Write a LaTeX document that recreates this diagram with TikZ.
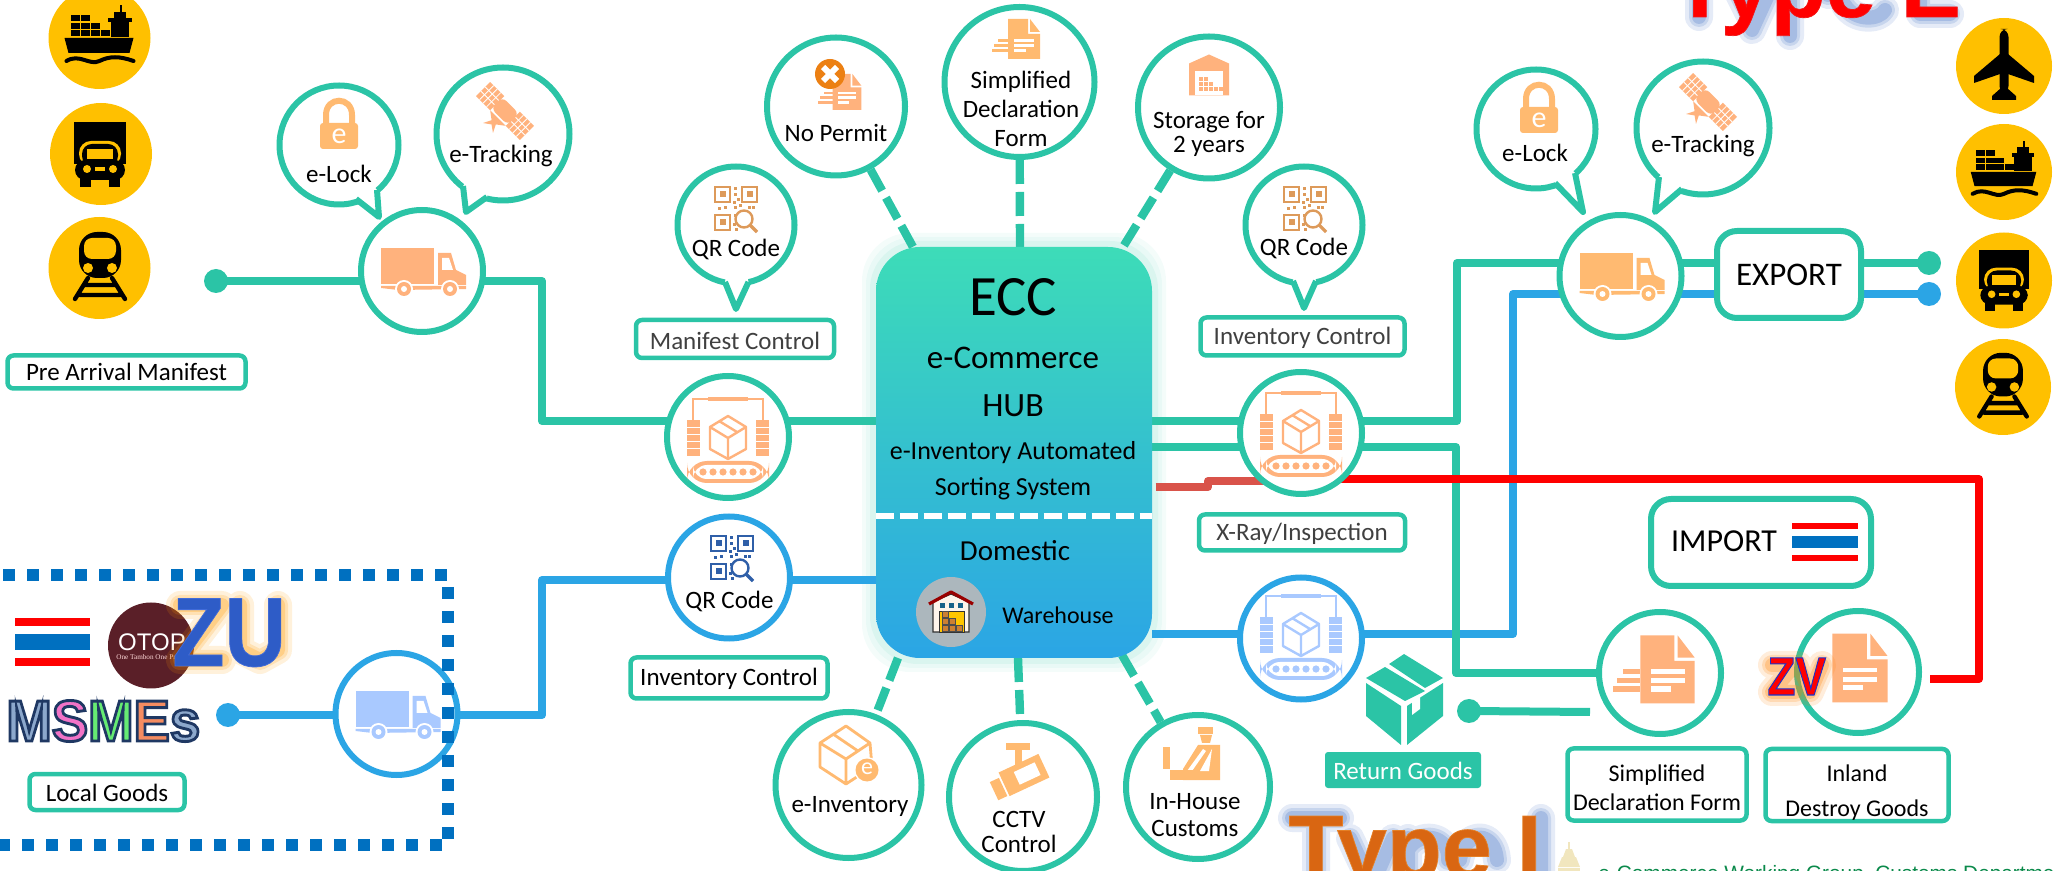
\documentclass[tikz,border=0pt]{standalone}
\usepackage{fontspec}
\setmainfont{Carlito}
\newfontfamily\heavyfont[FakeBold=2,UprightFont=* Bold]{Liberation Sans}
\newfontfamily\msfont[FakeBold=5,UprightFont=* Bold]{Liberation Sans}
\newfontfamily\typefont[FakeBold=0.8,UprightFont=* Bold]{Liberation Sans}
\newfontfamily\plainsans{Liberation Sans}
\newfontfamily\oserif{Liberation Serif}
\usetikzlibrary{calc}
\pgfdeclarelayer{bg}
\pgfsetlayers{bg,main}
\definecolor{gr}{HTML}{2BC4A6}
\definecolor{bl}{HTML}{2BA5E5}
\definecolor{yl}{HTML}{FFC000}
\definecolor{og}{HTML}{FFB27D}
\definecolor{lb}{HTML}{A9C9FF}
\definecolor{qo}{HTML}{DD9A5A}
\definecolor{qb}{HTML}{2F5FA8}
\definecolor{dk}{HTML}{404040}
\definecolor{dr}{HTML}{D9534A}
\definecolor{dashblue}{HTML}{0070C0}
\definecolor{hubtop}{HTML}{3DDCB8}
\definecolor{glowblue}{HTML}{4472C4}
\definecolor{otopc}{HTML}{5A1F28}
\definecolor{footc}{HTML}{0B8A4B}
\definecolor{templec}{HTML}{F1E6BE}
\newcommand\olt[3]{\special{pdf:bcolor [#1] [#2]}#3\special{pdf:ecolor}}
\tikzset{
  x=0.5pt,y=-0.5pt,
  ring/.style={circle,draw=gr,fill=white,line width=3pt,inner sep=0pt},
  bring/.style={ring,draw=bl},
  ydisc/.style={circle,fill=yl,inner sep=0pt},
  dotg/.style={circle,fill=gr,inner sep=0pt,minimum size=12pt},
  dotb/.style={circle,fill=bl,inner sep=0pt,minimum size=12pt},
  lbl/.style={inner sep=0pt,align=center,font=\fontsize{12.5}{15}\selectfont},
  lbox/.style={rectangle,draw=gr,fill=white,line width=2.25pt,rounded corners=3pt,inner sep=0pt,align=center,font=\fontsize{12.5}{15}\selectfont},
  bigbox/.style={rectangle,draw=gr,fill=white,line width=3pt,rounded corners=10pt,inner sep=0pt},
  gline/.style={draw=gr,line width=4pt,line join=round},
  bline/.style={draw=bl,line width=4pt,line join=round},
  rline/.style={draw=red,line width=4pt,line join=round},
  dline/.style={draw=gr,line width=4.2pt,dash pattern=on 12pt off 4pt},
  hubtxt/.style={inner sep=0pt,align=center},
}
\newcommand\truckicon[3]{\begin{scope}[shift={(#1,#2)},fill=#3]
 \fill (-41,-23) rectangle (12,13);
 \fill (16,-18)--(29,-18)--(34,-1)--(44,4)--(44,14)--(16,14)--cycle;
 \fill[white] (20,-13)--(27,-13)--(31,-1)--(20,-1)--cycle;
 \fill (-41,15)--(44,15)--(44,18)--(-24,19)--(-41,17)--cycle;
 \foreach \q in {-18,28}{\fill[white] (\q,18) circle[radius=9];\fill (\q,18) circle[radius=7];\fill[white] (\q,18) circle[radius=3];}
\end{scope}}
\newcommand\sortericon[3]{\begin{scope}[shift={(#1,#2)},fill=#3,draw=#3]
 \draw[line width=1.2pt] (-35,-20)--(-35,-42)--(35,-42)--(35,-20);
 \fill (-20,-44) rectangle (20,-40);
 \foreach \s in {-41,28}{\fill (\s,-21) rectangle ++(13,36);
   \foreach \t in {-14,-7,0,7}{\draw[white,line width=.4pt] (\s,\t)--++(13,0);}}
 \draw[line width=1.2pt,line join=round] (0,-25)--(18,-14)--(18,8)--(0,18)--(-18,8)--(-18,-14)--cycle (-18,-14)--(0,-3)--(18,-14) (0,-3)--(0,18) (-9,-20)--(9,-9);
 \fill[rounded corners=10pt] (-41,20) rectangle (41,42);
 \fill[white,rounded corners=7pt] (-35,24) rectangle (35,38);
 \foreach \t in {-25,-15,-5,5,15,25}{\fill (\t,31) circle[radius=3.6];}
\end{scope}}
\newcommand\lockicon[3]{\begin{scope}[shift={(#2,#3)}]
 \draw[line width=3pt,draw=og!90!yellow] (-13,-22)--(-13,-30).. controls (-13,-49) and (13,-49) .. (13,-30)--(13,-22);
 \fill[og!90!yellow,rounded corners=1.5pt] (-19,-22) rectangle (19,4);
 \node[inner sep=0pt,text=white,font=\fontsize{15}{15}\selectfont] (#1) at (0,-9) {e};
\end{scope}}
\newcommand\saticon[2]{\begin{scope}[shift={(#1,#2)},rotate=-45]
 \foreach \s in {-31,11}{\fill[og] (\s,-10) rectangle ++(20,20);
  \foreach \t in {5,10,15}{\draw[white,line width=.4pt] (\s+\t,-10)--++(0,20);}
  \draw[white,line width=.4pt] (\s,-3)--++(20,0) (\s,3)--++(20,0);}
 \fill[og,rounded corners=3pt] (-12,-8) rectangle (12,8);
 \fill[og] (-11,10)--(11,10)--(3,16)--(7,24)--(0,19)--(-7,24)--(-3,16)--cycle;
\end{scope}}
\newcommand\qricon[3]{\begin{scope}[shift={(#1,#2)},draw=#3,fill=#3]
 \foreach \a/\b in {-21/-22,6/-22,-21/6}{\draw[line width=1pt] (\a,\b) rectangle ++(15,15);\fill (\a+4.5,\b+4.5) rectangle ++(6,6);}
 \foreach \a/\b in {-2/-22,-2/-16,1/-11,-3/-8,-2/-3,-12/-3,-18/-2,3/-5,12/-3,16/-3,-2/5,-3/14,-1/19}{\fill (\a,\b) rectangle ++(3,3);}
 \draw[line width=1.2pt,fill=white] (8,10) circle[radius=8.5];
 \draw[line width=1.6pt] (14,16)--(21,23);
\end{scope}}
\newcommand\docicon[5]{\begin{scope}[shift={(#1,#2)},scale=#3]
 \fill[#4] (-16,-20)--(4,-20)--(4,-5)--(16,-5)--(16,20)--(-16,20)--cycle;
 \fill[#4] (6,-20)--(16,-7)--(6,-7)--cycle;
 \ifnum#5=1
 \fill[#4] (-26,0) rectangle (-16,2.6); \fill[#4] (-30,5) rectangle (-16,8); \fill[#4] (-32,10) rectangle (-16,13);
 \fi
 \fill[white] (-10,0) rectangle (10,2.6); \fill[white] (-10,5) rectangle (10,8); \fill[white] (-10,10) rectangle (2,13);
\end{scope}}
\newcommand\shipicon[3]{\begin{scope}[shift={(#1,#2)},scale=#3]
 \fill (-35,0)--(34,0)--(30,15)--(-31,15)--cycle;
 \draw[line width=2pt,line cap=round] (-33,23) .. controls (-20,15) and (-10,28) .. (0,23) .. controls (10,18) and (20,18) .. (34,23);
 \foreach \a in {-29,-19}{\fill (\a,-23) rectangle ++(9,6);}
 \foreach \a in {-29,-19,-9}{\fill (\a,-15) rectangle ++(9,6);}
 \foreach \a in {-29,-19,-9,1}{\fill (\a,-8) rectangle ++(9,6);}
 \fill (11,-18) rectangle (29,-1); \fill (8,-20) rectangle (32,-16); \fill (14,-26) rectangle (26,-20); \fill (20,-33) rectangle (22,-26);
\end{scope}}
\newcommand\ytruckicon[3]{\begin{scope}[shift={(#1,#2)},scale=#3]
 \fill (-26,-32) rectangle (26,10);
 \fill[yl,rounded corners=6pt] (-21,-13) rectangle (21,12);
 \fill[rounded corners=5pt] (-18,-10) rectangle (18,12);
 \fill[yl] (-13,-5) rectangle (13,5);
 \fill[rounded corners=5pt] (-25,6) rectangle (25,26);
 \fill (-20,24) rectangle (-9,33); \fill (9,24) rectangle (20,33);
 \fill[yl] (-13,15) circle[radius=4]; \fill[yl] (13,15) circle[radius=4]; \fill[yl] (-5,13.5) rectangle (5,17);
\end{scope}}
\newcommand\trainicon[3]{\begin{scope}[shift={(#1,#2)},scale=#3]
 \fill[rounded corners=9pt] (-21,-36) rectangle (21,10);
 \fill[yl,rounded corners=4pt] (-16,-30) rectangle (16,-9);
 \fill[yl] (-12,0) circle[radius=5]; \fill[yl] (12,0) circle[radius=5];
 \draw[line width=2.2pt,line cap=round] (-12,10)--(-25,31) (12,10)--(25,31) (-15,17)--(15,17) (-20,27)--(20,27);
\end{scope}}
\newcommand\planeicon[3]{\begin{scope}[shift={(#1,#2)},scale=#3]
 \fill[rounded corners=4pt] (-4.5,-37) rectangle (4.5,28);
 \fill (-4,-12)--(-30,10)--(-30,17)--(-4,8)--(4,8)--(30,17)--(30,10)--(4,-12)--cycle;
 \fill (-3,22)--(-12,30)--(-12,34)--(12,34)--(12,30)--(3,22)--cycle;
\end{scope}}
\newcommand\glowp[2]{\foreach \w/\o in {14/.14,10/.18,7/.25}{\draw[#1,line width=\w pt,opacity=\o,line cap=round,line join=round] #2;}}
\begin{document}
\begin{tikzpicture}
\useasboundingbox (0,0) rectangle (2053,871);
\begin{scope}
\clip (0,0) rectangle (2053,871);
% --- yellow discs
\node[ydisc,minimum size=51pt] (yship) at (99.5,38) {};
\node[ydisc,minimum size=51pt] (ytruck) at (101,154) {};
\node[ydisc,minimum size=51pt] (ytrain) at (99.5,268) {};
\node[ydisc,minimum size=48pt] (yplane) at (2004,66) {};
\node[ydisc,minimum size=48pt] (yshipr) at (2004,172) {};
\node[ydisc,minimum size=48pt] (ytruckr) at (2004,280.5) {};
\node[ydisc,minimum size=48pt] (ytrainr) at (2003,387) {};
\shipicon{99.5}{38}{1}
\ytruckicon{100}{154}{1}
\trainicon{100}{268}{1}
\planeicon{2004}{66}{1}
\shipicon{2004}{172}{.95}
\ytruckicon{2004}{280}{.95}
\trainicon{2003}{387}{.95}
% --- hub
\node[rectangle,rounded corners=22pt,minimum width=138pt,minimum height=205.5pt,top color=hubtop,bottom color=bl,inner sep=0pt] (ecc) at (1014,452.5) {};
\draw[white,line width=3pt,dash pattern=on 9pt off 3pt] (ecc.west |- 0,516) -- (ecc.east |- 0,516);
\node[hubtxt,font=\fontsize{28.5}{30}\selectfont] (tecc) at (1013,297) {ECC};
\node[hubtxt,font=\fontsize{16.5}{18}\selectfont] (tcom) at (1013,358) {e-Commerce};
\node[hubtxt,font=\fontsize{17}{18}\selectfont] (thub) at (1013,406) {HUB};
\node[hubtxt,font=\fontsize{13}{15}\selectfont] (tinv) at (1013,452.5) {e-Inventory Automated};
\node[hubtxt,font=\fontsize{13}{15}\selectfont] (tsort) at (1013,488.5) {Sorting System};
\node[hubtxt,font=\fontsize{14.5}{16}\selectfont] (tdom) at (1015,551) {Domestic};
\node[hubtxt,font=\fontsize{12}{14}\selectfont] (twar) at (1058,615) {Warehouse};
\node[circle,fill=white!35!gray!90!cyan,inner sep=0pt,minimum size=35pt] (wcirc) at (951,612) {};
\begin{scope}[shift={(951,612)}]
 \fill[white!92!orange,draw=black!80,line width=.6pt] (-18,-10)--(0,-18)--(18,-10)--(18,20)--(-18,20)--cycle;
 \draw[draw=red!60!black,line width=1.6pt,line join=round] (-22,-8)--(0,-20)--(22,-8);
 \foreach \a in {-11,-2,7}{\fill[bl!60!black] (\a,-9) rectangle ++(5,5);}
 \fill[yl!90!yellow,draw=black!80,line width=.4pt] (-12,-1) rectangle (13,20);
 \foreach \a/\b in {-9/13,-2/13,5/13,-9/6,-2/6,-9/-1}{\fill[brown!80!orange,draw=black!70,line width=.2pt] (\a,\b) rectangle ++(6.5,6.5);}
\end{scope}
% --- truck stops and nodes
\node[dotg] (gdot) at (216,281) {};
\node[ring,minimum size=61pt] (truckL) at (422,271) {};
\node[ring,minimum size=61pt] (sortL) at (728,437) {};
\node[ring,minimum size=61pt] (sortR) at (1301,433) {};
\node[ring,minimum size=61pt] (truckR) at (1620.5,276) {};
\node[dotg] (gdotR) at (1929,263) {};
\node[dotb] (bdotR) at (1929,294) {};
\node[bring,minimum size=61pt] (sortB) at (1301,638.5) {};
\node[ring,minimum size=61pt] (simpC) at (1660,673) {};
\node[ring,minimum size=61pt] (inlC) at (1858,672) {};
\node[dotg] (rdot) at (1469,711) {};
\node[dotb] (bdot) at (228,715) {};
\node[bring,minimum size=61pt] (truckB) at (396.5,714) {};
\node[bring,minimum size=61pt] (qrB) at (729,577.5) {};
\truckicon{422}{271}{og}
\truckicon{1620.5}{276}{og!90!yellow}
\truckicon{396.5}{714}{lb}
\sortericon{728}{441}{og}
\sortericon{1301}{435}{og}
\sortericon{1301}{638}{lb}
\qricon{732}{558}{qb}
\node[lbl] (tqrB) at (729.5,601) {QR Code};
% --- bubbles with tails
\newcommand\bubble[8]{% name x y dia b1 tip b2
 \node[ring,minimum size=#4pt] (#1) at (#2,#3) {};
 \fill[white] (#1.center)--(#5)--(#6)--(#7)--cycle;
 \draw[gr,line width=3pt,line join=round] (#5)--(#6)--(#7);}
\bubble{bLock}{339}{145}{59.5}{356,199}{379,217}{377,190}{}
\bubble{bTrack}{503}{134}{66.5}{463,186}{466,212}{487,197}{}
\bubble{bQRL}{736}{225}{58.5}{725,282}{736,309}{748.5,282}{}
\bubble{bQRR}{1304}{225}{58.5}{1293,281}{1304,308}{1316,281}{}
\bubble{bLockR}{1536}{129}{59.5}{1555,183}{1583,212}{1575,173}{}
\bubble{bTrackR}{1703}{128}{66.5}{1659,177}{1655,212}{1682,189}{}
\lockicon{eLockL}{339}{145}
\lockicon{eLockR}{1539}{129}
\saticon{505}{111}
\saticon{1708}{102}
\qricon{736}{209}{qo}
\qricon{1305}{209}{qo}
\node[lbl] (tLock) at (339,174) {e-Lock};
\node[lbl] (tTrack) at (501,156) {e-Tracking};
\node[lbl] (tQRL) at (736,249) {QR Code};
\node[lbl] (tQRR) at (1304,248) {QR Code};
\node[lbl] (tLockR) at (1535,153) {e-Lock};
\node[lbl] (tTrackR) at (1703,146) {e-Tracking};
% --- feature circles
\node[ring,minimum size=69pt] (cNoP) at (836,106.5) {};
\node[ring,minimum size=75pt] (cSimp) at (1019.5,82) {};
\node[ring,minimum size=71pt] (cStor) at (1209,107.5) {};
\node[ring,minimum size=73pt] (cInv) at (848.5,785) {};
\node[ring,minimum size=74pt] (cCCTV) at (1023,797) {};
\node[ring,minimum size=72pt] (cHouse) at (1198,787) {};
\docicon{847}{92}{.9}{og}{1}
\fill[orange!70!brown] (830,74) circle[radius=15];
\draw[white,line width=3pt] (823,67)--(837,81) (837,67)--(823,81);
\docicon{1024}{39}{1}{og!90!yellow}{1}
\node[lbl] (tNoP) at (836,133) {No Permit};
\node[lbl,font=\fontsize{12.5}{14.5}\selectfont] (tSimp) at (1021,109) {Simplified\\Declaration\\Form};
\begin{scope}[shift={(1209,75.5)}]
 \fill[og] (-20,-12)--(0,-21)--(20,-12)--(20,20)--(-20,20)--cycle;
 \fill[white] (-14,-4) rectangle (14,20);
 \foreach \a/\b in {-10/2,-5/2,-10/7,-5/7,0/7,-10/12,-5/12,0/12,5/12,10/12}{\fill[og] (\a,\b) rectangle ++(3.6,3.6);}
\end{scope}
\node[lbl,font=\fontsize{12.5}{12}\selectfont] (tStor) at (1209,133.5) {Storage for\\2 years};
\begin{scope}[shift={(846,755)},draw=og!90!yellow,line width=1.4pt,line join=round]
 \draw (-26,-12)--(0,-29)--(24,-12)--(26,12)--(0,29)--(-26,12)--cycle (-26,-12)--(0,4)--(24,-12) (0,4)--(0,29) (-13,-21)--(12,-4);
\end{scope}
\fill[white] (867,770) circle[radius=13];
\fill[og!90!yellow] (867,770) circle[radius=11.5];
\node[inner sep=0pt,text=white,font=\fontsize{12}{12}\selectfont] (tE) at (867,769) {e};
\node[lbl] (tInv2) at (850,806) {e-Inventory};
 \fill[og!90!yellow] (1006,743) rectangle (1030,750);
 \fill[og!90!yellow] (1015,750) rectangle (1022,768);
 \begin{scope}[shift={(1024,775)},rotate=25]
  \fill[og!90!yellow] (-22,-13) rectangle (22,13);
  \fill[white] (-8,-7) rectangle (15,7);
  \fill[og!90!yellow] (-34,-8) rectangle (-24,12);
 \end{scope}
\node[lbl,font=\fontsize{12.5}{12.5}\selectfont] (tCCTV) at (1019,832) {CCTV\\Control};
\begin{scope}[shift={(1195,753)}]
 \fill[og!90!yellow] (3,-26) rectangle (18,-19);
 \fill[og!90!yellow] (5,-18) -- (17,-18) -- (15,-10) -- (7,-10) -- cycle;
 \fill[og!90!yellow] (-12,16)--(3,-8)--(25,-8)--(25,27)--(-12,27)--cycle;
 \fill[white] (-8,18)--(8,-4)--(11,-2)--(-3,18)--cycle;
 \fill[white] (5,18)--(17,-4)--(14,18)--cycle;
 \fill[og!90!yellow] (-32,-6) rectangle (-25,16);
 \fill[og!90!yellow] (-25,17) rectangle (2,27);
\end{scope}
\node[lbl,font=\fontsize{12.5}{13.5}\selectfont] (tHouse) at (1195,815) {In-House\\Customs};
% --- boxes
\node[lbox,minimum width=119pt,minimum height=16.5pt] (bPre) at (126.5,372) {Pre Arrival Manifest};
\node[lbox,minimum width=77.5pt,minimum height=18pt] (bLoc) at (107,792) {\rule{0pt}{10pt}Local Goods};
\node[lbox,minimum width=98.5pt,minimum height=20.5pt] (bInvL) at (729,678) {\rule{0pt}{10pt}Inventory Control};
\node[lbox,minimum width=99pt,minimum height=19pt,text=dk] (bMan) at (735,339) {\rule{0pt}{11pt}Manifest Control};
\node[lbox,minimum width=102pt,minimum height=19pt,text=dk] (bInvR) at (1302.5,336.5) {\rule{0pt}{10pt}Inventory Control};
\node[lbox,minimum width=103pt,minimum height=18pt,text=dk] (bX) at (1302,532.5) {\rule{0pt}{10pt}X-Ray/Inspection};
\node[lbox,minimum width=89.5pt,minimum height=36pt,font=\fontsize{12}{14.5}\selectfont] (bSDF) at (1657,784.5) {\rule{0pt}{11.4pt}Simplified\\Declaration Form};
\node[lbox,minimum width=91.5pt,minimum height=36pt,font=\fontsize{12}{17.5}\selectfont] (bInl) at (1857,785) {\rule{0pt}{15.8pt}Inland\\Destroy Goods};
\node[bigbox,minimum width=72pt,minimum height=43.5pt,font=\fontsize{16.5}{18}\selectfont] (bExp) at (1789,274.5) {EXPORT};
\node[bigbox,minimum width=110pt,minimum height=43.5pt] (bImp) at (1761,542.5) {};
\node[inner sep=0pt,font=\fontsize{16}{18}\selectfont] (tImp) at (1724,541) {IMPORT};
\fill[red] (1792,523) rectangle (1858,529);
\fill[dashblue] (1792,536) rectangle (1858,548);
\fill[red] (1792,555) rectangle (1858,561);
\node[rectangle,fill=gr,text=white,rounded corners=1.5pt,minimum width=78pt,minimum height=18pt,inner sep=0pt,font=\fontsize{12.5}{15}\selectfont] (bRet) at (1403,770) {\rule{0pt}{10pt}Return Goods};
% --- return box
\fill[gr] (1366,683)--(1401,706)--(1401,745)--(1366,716)--cycle;
\fill[gr] (1407,706)--(1443,683)--(1443,716)--(1407,745)--cycle;
\fill[gr] (1389,664)--(1404,654)--(1443,678)--(1425,688)--cycle;
\fill[gr] (1366,678)--(1385,667)--(1425,691)--(1405,701)--cycle;
\fill[white] (1412,702)--(1420,696)--(1420,709)--(1412,715)--cycle;
% --- docs
\docicon{1667.5}{669.5}{1.7}{og}{1}
\docicon{1860}{668}{1.72}{og}{0}
% --- ZV
\glowp{orange}{(1772,665)--(1795,665)--(1772,692)--(1795,692) (1798,665)--(1810,692)--(1822,665)}
\node[inner sep=0pt,anchor=base west,font=\fontsize{27}{27}\heavyfont] (tZV) at (1767,695) {\scalebox{.85}[1]{\olt{1 0 0}{.1 .2 .8}{ZV}}};
% --- local goods group
\fill[red] (15,618) rectangle (90,626);
\fill[dashblue] (15,634) rectangle (90,650);
\fill[red] (15,658) rectangle (90,666);
\node[circle,fill=otopc,inner sep=0pt,minimum size=43pt] (cOtop) at (151,645.5) {};
\node[inner sep=0pt,text=white,font=\fontsize{12}{12}\plainsans] (tOtop) at (152,642) {OTOP};
\node[inner sep=0pt,anchor=west,text=white!85!red,font=\fontsize{3.6}{4}\oserif] (tOtop2) at (116,657) {One Tambon One Product};
\glowp{orange!80!yellow}{(180,605)--(222,605)--(180,660)--(222,660) (240,605)--(240,650)--(260,660)--(278,650)--(278,605)}
\node[inner sep=0pt,anchor=base west,font=\fontsize{49}{49}\typefont] (tZU) at (172,666) {\scalebox{.87}[1]{\olt{.18 .36 .78}{.25 .42 .85}{ZU}}};
\node[inner sep=0pt,anchor=base west,font=\fontsize{29}{30}\msfont] (tMS) at (6,741) {\scalebox{.94}[1]{\olt{.55 .66 .8}{.12 .22 .39}{M}\olt{.95 .45 .78}{.12 .22 .39}{S}\olt{.4 .92 .45}{.12 .22 .39}{M}\olt{.96 .55 .38}{.12 .22 .39}{E}\olt{.55 .66 .8}{.12 .22 .39}{s}}};
\draw[dashblue,line width=6pt,dash pattern=on 6pt off 6pt] (-21,575) -- (453,575);
\draw[dashblue,line width=6pt,dash pattern=on 6pt off 6pt] (447.5,587) -- (447.5,839);
\draw[dashblue,line width=6pt,dash pattern=on 6pt off 6pt] (-2,845) -- (453,845);
% --- type titles
\glowp{glowblue}{(1699,-30)--(1699,17) (1732,-20)--(1752,20) (1775,-20)--(1752,30) (1790,-20)--(1790,36) (1790,-5)..controls (1800,-25) and (1825,-20)..(1828,-5) (1845,5)..controls (1855,22) and (1880,20)..(1885,10) (1920,-20)--(1920,14)--(1950,14)}
\node[inner sep=0pt,anchor=base west,font=\fontsize{45}{45}\typefont] (tTE) at (1672,17) {\olt{1 0 0}{.95 .1 .1}{Type E}};
\glowp{glowblue}{(1292,818)--(1340,818) (1316,818)--(1316,880) (1350,838)--(1370,880) (1393,838)--(1370,890) (1408,838)--(1408,890) (1408,850)..controls (1420,830) and (1450,835)..(1448,860) (1460,860)..controls (1465,830) and (1495,830)..(1497,860) (1541,818)--(1541,880)}
\node[inner sep=0pt,anchor=base west,font=\fontsize{45}{45}\typefont] (tTI) at (1288,878) {\olt{.85 .4 .07}{.9 .5 .15}{Type I}};
% --- footer
\begin{scope}[shift={(1569,871)}]
 \fill[templec] (-1,-29) rectangle (1,-22);
 \fill[templec] (-3,-22)--(3,-22)--(6,-14)--(-6,-14)--cycle;
 \fill[templec] (-7,-14)--(7,-14)--(11,-4)--(-11,-4)--cycle;
 \fill[templec] (-11,-3) rectangle (11,0);
\end{scope}
\node[inner sep=0pt,anchor=base west,text=footc,font=\fontsize{10.4}{12}\plainsans] (tFoot) at (1598,880) {e-Commerce Working Group, Customs Department};
% --- connectors
\begin{pgfonlayer}{bg}
 \foreach \d/\o in {14/.05,10/.06,6/.08}{\fill[gr,opacity=\o,rounded corners=24pt] (876-\d,247-\d) rectangle (1152+\d,658+\d);}
 \coordinate (bb1) at (542,580);
 \coordinate (bb2) at (1513,634);
 \coordinate (gb1) at (542,421);
 \coordinate (gb2) at (1457,421);
 \coordinate (gb3) at (1456,447);
 \coordinate (re1) at (1590,712);
 \coordinate (rb1) at (1979,479);
 \coordinate (rb2) at (1979,679);
 \coordinate (rb3) at (1930,679);
 \coordinate (dr0) at (1155.5,487);
 \coordinate (dr1) at (1208,487);
 \coordinate (dr2) at (1208,481);
 \coordinate (dn1) at (913,247);
 \coordinate (dn2) at (1020,247);
 \coordinate (dn3) at (1123,247);
 \coordinate (dn4) at (898,658);
 \coordinate (dn5) at (1018,658);
 \coordinate (dn6) at (1122,655);
 \draw[bline] (bdot.center) -| (bb1) -- (ecc.west |- bb1);
 \draw[bline] (ecc.east |- bb2) -- (bb2) |- (bdotR.center);
 \draw[gline] (gdot.center) -| (gb1) -- (ecc.west |- gb1);
 \draw[gline] (ecc.east |- gb2) -- (gb2) |- (gdotR.center);
 \draw[gline] (ecc.east |- gb3) -- (gb3) |- (simpC.center);
 \draw[gline] (rdot.center) -- (re1);
 \draw[rline] (sortR.center |- rb1) -- (rb1) -- (rb2) -- (rb3);
 \draw[draw=dr,line width=4pt,line join=round] (dr0) -- (dr1) -- (dr2) -- (sortR.center |- dr2);
 \draw[dline] (cNoP) -- (dn1);
 \draw[dline] (cSimp) -- (dn2);
 \draw[dline] (cStor) -- (dn3);
 \draw[dline] (dn4) -- (cInv);
 \draw[dline] (dn5) -- (cCCTV);
 \draw[dline] (dn6) -- (cHouse);
\end{pgfonlayer}
\end{scope}
\end{tikzpicture}
\end{document}
